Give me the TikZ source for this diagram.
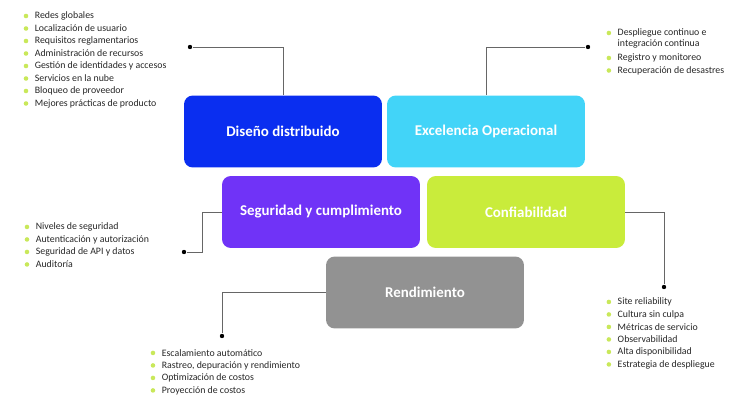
\documentclass[tikz,border=0pt]{standalone}
\usepackage{fontspec}
\setmainfont{Carlito}
\usetikzlibrary{positioning}
\definecolor{dblue}{HTML}{0A2EF0}
\definecolor{dcyan}{HTML}{42D4F8}
\definecolor{dpurple}{HTML}{7033F7}
\definecolor{dlime}{HTML}{C9EC3B}
\definecolor{dgrey}{HTML}{929292}
\definecolor{dbullet}{HTML}{C9E85A}
\tikzset{
  pillar/.style={rounded corners=5pt, minimum width=3.96cm, minimum height=1.44cm,
    text=white, font=\fontsize{8.5}{10}\selectfont\bfseries, inner sep=0pt},
  wire/.style={draw=black!60, line width=0.5pt},
  tip/.style={circle, fill=black, inner sep=0pt, minimum size=2.5pt},
  entry/.style={anchor=west, inner sep=0pt, font=\fontsize{5.6}{6.6}\selectfont, text=black!85},
  dot/.style={circle, fill=dbullet, inner sep=0pt, minimum size=2.6pt}
}
\newcommand{\bulletlist}[3]{%
  \foreach \t [count=\i from 0] in {#3}
    \node[dot] at (#1,#2-0.25*\i) {} node[entry] at (#1+0.17,#2-0.25*\i) {\t};}
\begin{document}
\begin{tikzpicture}[x=0.02cm,y=-0.02cm]

        \useasboundingbox (0,0) rectangle (750,406);

        % the five pillars
        \node[pillar, fill=dblue] (diseno) at (283,131.5) {Diseño distribuido};
        \node[pillar, fill=dcyan] (excel) at (486,131.5) {Excelencia Operacional};
        \node[pillar, fill=dpurple] (segur) at (321,212) {Seguridad y cumplimiento};
        \node[pillar, fill=dlime] (confia) at (526,212) {Confiabilidad};
        \node[pillar, fill=dgrey] (rendi) at (425,292.5) {Rendimiento};

        \node[tip] (tdis) at (190,47) {};
        \node[tip] (texc) at (588,47) {};
        \node[tip] (tseg) at (184,252) {};
        \node[tip] (tcon) at (664,287) {};
        \node[tip] (tren) at (222,336) {};

        \path[wire] (diseno.north) |- (tdis);
        \path[wire] (excel.north) |- (texc);
        \path[wire] (segur.west) -- ++(-19,0) |- (tseg);
        \path[wire] (confia.east) -| (tcon);
        \path[wire] (rendi.west) -| (tren);

        % lists
        \begin{scope}[x=1cm,y=1cm]
        \bulletlist{0.52}{-0.32}{Redes globales,Localización de usuario,Requisitos reglamentarios,Administración de recursos,Gestión de identidades y accesos,Servicios en la nube,Bloqueo de proveedor,Mejores prácticas de producto}
        \node[dot] at (12.18,-0.66) {};
        \node[entry, anchor=north west, align=left] at (12.35,-0.56) {Despliegue continuo e\\integración continua};
        \bulletlist{12.18}{-1.16}{Registro y monitoreo,Recuperación de desastres}
        \bulletlist{0.54}{-4.54}{Niveles de seguridad,Autenticación y autorización,Seguridad de API y datos,Auditoría}
        \bulletlist{12.18}{-6.04}{Site reliability,Cultura sin culpa,Métricas de servicio,Observabilidad,Alta disponibilidad,Estrategia de despliegue}
        \bulletlist{3.06}{-7.06}{Escalamiento automático,{Rastreo, depuración y rendimiento},Optimización de costos,Proyección de costos}
        \end{scope}

\end{tikzpicture}
\end{document}
